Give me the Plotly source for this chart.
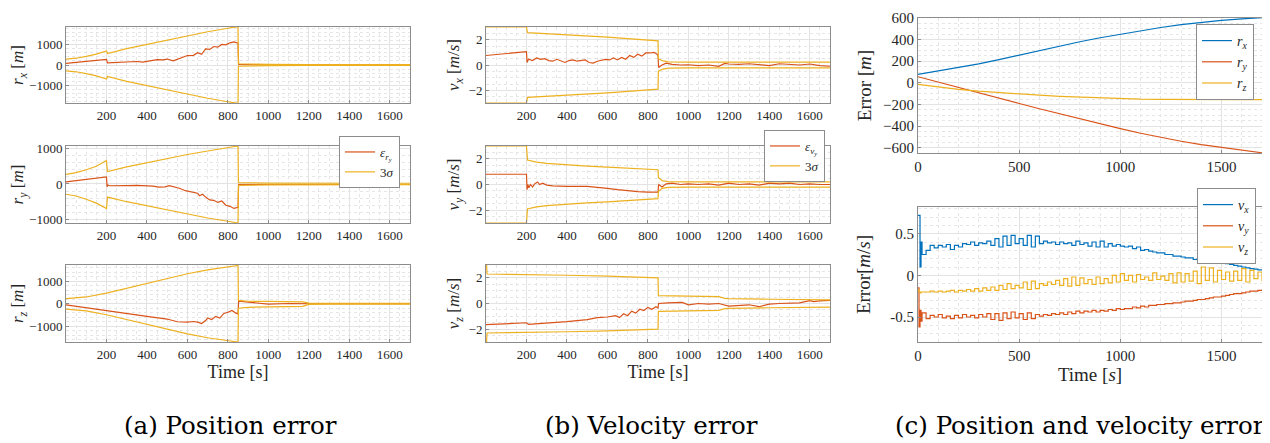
import plotly.graph_objects as go

# ---------------- DATA ----------------
# (a) position error panels
A1_SIG_T = [0, 50, 100, 150, 200, 205, 300, 400, 500, 600, 700, 800, 850, 852, 900, 1000, 1200, 1700]
A1_SIG_UP = [290, 330, 420, 530, 680, 560, 800, 1010, 1230, 1440, 1620, 1790, 1870, 60, 40, 30, 25, 20]
A1_SIG_LO = [-290, -330, -420, -530, -680, -560, -800, -1010, -1230, -1440, -1620, -1790, -1870, -60, -40, -30, -25, -20]
A1_ERR_T = [0, 200, 205, 250, 300, 350, 380, 420, 450, 480, 500, 530, 560, 600, 630, 650, 670, 690, 710, 730, 750, 770, 790, 810, 830, 850, 853, 900, 1000, 1200, 1700]
A1_ERR = [80, 270, 100, 130, 150, 170, 140, 220, 260, 250, 290, 200, 310, 460, 470, 600, 520, 780, 760, 900, 870, 1000, 980, 1080, 1120, 1060, 30, 20, 0, 0, 0]

A2_SIG_T = [0, 50, 100, 150, 200, 205, 300, 400, 500, 600, 700, 800, 850, 852, 900, 1000, 1700]
A2_SIG_UP = [270, 320, 400, 500, 660, 350, 480, 600, 720, 830, 930, 1020, 1070, 40, 30, 25, 20]
A2_SIG_LO = [-290, -340, -430, -540, -690, -370, -500, -620, -740, -860, -960, -1050, -1100, -40, -30, -25, -20]
A2_ERR_T = [0, 200, 203, 207, 215, 250, 300, 350, 400, 430, 460, 490, 510, 530, 560, 590, 620, 650, 660, 675, 690, 710, 730, 750, 770, 790, 810, 830, 850, 853, 900, 1700]
A2_ERR = [60, 200, -80, -30, -50, -40, -45, -40, -50, -60, -90, -80, -50, -70, -120, -190, -220, -260, -330, -290, -370, -450, -460, -520, -480, -600, -630, -690, -660, -20, -15, -15]

A3_SIG_T = [0, 100, 200, 300, 400, 500, 600, 700, 800, 850, 852, 900, 1000, 1100, 1170, 1200, 1300, 1700]
A3_SIG_UP = [230, 300, 470, 680, 900, 1120, 1330, 1500, 1640, 1700, 150, 110, 100, 90, 80, 30, 20, 20]
A3_SIG_LO = [-240, -320, -490, -700, -920, -1130, -1340, -1510, -1650, -1700, -200, -160, -140, -130, -120, -30, -20, -20]
A3_ERR_T = [0, 100, 200, 300, 400, 500, 550, 600, 630, 650, 670, 690, 700, 720, 740, 760, 780, 800, 820, 840, 850, 853, 880, 920, 960, 1000, 1100, 1180, 1250, 1700]
A3_ERR = [-50, -180, -330, -450, -560, -680, -800, -820, -790, -820, -880, -750, -630, -700, -560, -640, -430, -380, -300, -420, -450, 110, 90, 40, 0, -20, 10, 20, 0, 0]

# (b) velocity error panels
B1_SIG_T = [0, 200, 205, 400, 600, 850, 852, 870, 900, 1000, 1700]
B1_SIG_UP = [3.0, 3.0, 2.55, 2.4, 2.2, 1.9, 0.5, 0.35, 0.25, 0.23, 0.22]
B1_SIG_LO = [-3.0, -3.0, -2.55, -2.4, -2.2, -1.9, -0.5, -0.35, -0.25, -0.23, -0.22]
B1_ERR_T = [0, 200, 203, 210, 230, 250, 270, 290, 310, 330, 350, 370, 390, 410, 430, 450, 470, 490, 510, 530,
            550, 570, 590, 610, 630, 650, 670, 690, 710, 730, 750, 770, 790, 810, 830, 845, 850, 853, 870, 890,
            920, 960, 1000, 1050, 1100, 1150, 1180, 1200, 1250, 1300, 1350, 1400, 1450, 1500, 1550, 1600, 1650, 1700]
B1_ERR = [0.75, 1.05, 0.2, 0.45, 0.35, 0.55, 0.45, 0.5, 0.35, 0.3, 0.45, 0.3, 0.2, 0.35, 0.4, 0.3, 0.35, 0.4, 0.2, 0.15,
          0.3, 0.35, 0.45, 0.4, 0.55, 0.4, 0.6, 0.45, 0.75, 0.6, 0.85, 0.7, 0.95, 0.95, 1.0, 0.85, 0.75, -0.2, 0.0, 0.15,
          0.05, 0.0, 0.02, -0.05, 0.0, -0.1, 0.12, 0.08, 0.05, 0.1, 0.05, -0.05, 0.1, 0.05, 0.0, 0.08, -0.05, -0.1]

B2_SIG_T = [0, 200, 205, 250, 300, 400, 500, 600, 700, 850, 852, 870, 900, 1000, 1700]
B2_SIG_UP = [3.0, 3.0, 1.9, 1.75, 1.65, 1.52, 1.43, 1.35, 1.27, 1.15, 0.55, 0.3, 0.22, 0.2, 0.2]
B2_SIG_LO = [-3.0, -3.0, -1.9, -1.75, -1.65, -1.52, -1.43, -1.35, -1.27, -1.1, -0.55, -0.3, -0.22, -0.2, -0.2]
B2_ERR_T = [0, 200, 203, 207, 212, 220, 230, 240, 255, 265, 280, 300, 330, 400, 500, 550, 600, 650, 700, 750, 800,
            850, 853, 870, 890, 920, 960, 1000, 1050, 1100, 1150, 1200, 1250, 1300, 1350, 1400, 1450, 1500, 1550,
            1600, 1650, 1700]
B2_ERR = [0.8, 0.8, -0.4, 0.0, -0.25, 0.0, -0.2, 0.05, 0.2, 0.0, 0.1, -0.05, -0.1, -0.15, -0.15, -0.2, -0.3, -0.4,
          -0.5, -0.55, -0.6, -0.6, 0.0, -0.2, 0.05, 0.1, 0.0, 0.05, 0.0, 0.05, -0.05, 0.1, 0.0, 0.05, -0.05, 0.1,
          0.05, 0.1, 0.0, 0.05, 0.0, 0.0]

B3_SIG_T = [0, 3, 5, 200, 400, 600, 850, 852, 1000, 1150, 1180, 1200, 1400, 1700]
B3_SIG_UP = [3.0, 3.0, 2.3, 2.27, 2.2, 2.13, 2.0, 0.62, 0.58, 0.53, 0.4, 0.38, 0.33, 0.28]
B3_SIG_LO = [-3.0, -3.0, -2.3, -2.27, -2.2, -2.13, -2.0, -0.62, -0.58, -0.53, -0.4, -0.38, -0.33, -0.28]
B3_ERR_T = [0, 200, 210, 300, 400, 500, 550, 600, 640, 660, 680, 700, 720, 740, 760, 780, 800, 820, 840, 850,
            853, 900, 940, 970, 1000, 1050, 1100, 1150, 1200, 1250, 1300, 1350, 1400, 1450, 1500, 1550, 1600,
            1620, 1650, 1700]
B3_ERR = [-1.65, -1.5, -1.62, -1.55, -1.42, -1.25, -1.1, -1.05, -0.95, -1.1, -0.8, -0.95, -0.6, -0.75, -0.45,
          -0.55, -0.3, -0.45, -0.25, -0.35, 0.0, 0.05, 0.05, 0.08, -0.1, 0.0, -0.05, 0.0, -0.2, -0.15, -0.1,
          -0.25, -0.05, 0.0, 0.0, 0.05, 0.22, 0.15, 0.2, 0.25]

# (c) position and velocity error
C1_T = [0, 100, 200, 300, 400, 500, 600, 700, 800, 900, 1000, 1100, 1200, 1300, 1400, 1500, 1600, 1700]
C1_RX = [78, 110, 140, 175, 215, 257, 298, 340, 380, 417, 450, 482, 512, 538, 560, 578, 592, 603]
C1_RY = [56, 5, -45, -95, -143, -192, -240, -287, -333, -380, -425, -467, -505, -541, -572, -598, -622, -648]
C1_RZ = [-15, -40, -60, -78, -92, -105, -115, -125, -133, -140, -148, -152, -154, -156, -157, -157, -156, -156]

C2_T = [0, 5, 10, 15, 20] + list(range(40, 1701, 20))
C2_VX = [0.72, 0.72, 0.10, 0.40, 0.25,
         0.30, 0.36, 0.33, 0.36, 0.34, 0.37, 0.31, 0.36, 0.34, 0.38, 0.37, 0.40, 0.36, 0.39, 0.38, 0.41,
         0.36, 0.44, 0.34, 0.47, 0.36, 0.48, 0.38, 0.44, 0.36, 0.48, 0.34, 0.47, 0.38, 0.41, 0.39, 0.40,
         0.37, 0.40, 0.38, 0.39, 0.36, 0.41, 0.37, 0.39, 0.35, 0.40, 0.34, 0.41, 0.34, 0.38, 0.35, 0.37,
         0.35, 0.34, 0.35, 0.32, 0.34, 0.30, 0.31, 0.29, 0.28, 0.27, 0.27, 0.25, 0.25, 0.23, 0.23, 0.22,
         0.21, 0.21, 0.19, 0.20, 0.18, 0.19, 0.17, 0.16, 0.155, 0.145, 0.14, 0.13, 0.12, 0.11, 0.10, 0.09,
         0.08, 0.075, 0.065, 0.06]
C2_VY = [-0.15, -0.62, -0.42, -0.55, -0.45,
         -0.52, -0.48, -0.50, -0.47, -0.51, -0.49, -0.52, -0.48, -0.51, -0.47, -0.50, -0.48, -0.51, -0.47,
         -0.50, -0.46, -0.53, -0.46, -0.54, -0.45, -0.52, -0.44, -0.51, -0.46, -0.53, -0.45, -0.52, -0.47,
         -0.49, -0.47, -0.48, -0.46, -0.47, -0.45, -0.47, -0.44, -0.46, -0.43, -0.45, -0.43, -0.44, -0.42,
         -0.44, -0.42, -0.43, -0.41, -0.42, -0.40, -0.41, -0.40, -0.40, -0.38, -0.39, -0.37, -0.38, -0.36,
         -0.36, -0.35, -0.35, -0.34, -0.34, -0.33, -0.33, -0.32, -0.31, -0.31, -0.30, -0.29, -0.29, -0.28,
         -0.27, -0.26, -0.26, -0.25, -0.24, -0.23, -0.22, -0.22, -0.21, -0.20, -0.19, -0.19, -0.18, -0.17]
C2_VZ = [-0.17, -0.20, -0.21, -0.20, -0.20,
         -0.20, -0.19, -0.20, -0.19, -0.20, -0.19, -0.18, -0.20, -0.18, -0.19, -0.17, -0.19, -0.16, -0.19,
         -0.15, -0.18, -0.14, -0.18, -0.12, -0.17, -0.10, -0.16, -0.12, -0.15, -0.08, -0.17, -0.07, -0.16,
         -0.10, -0.12, -0.08, -0.11, -0.06, -0.12, -0.04, -0.13, -0.02, -0.12, -0.03, -0.10, -0.05, -0.11,
         -0.02, -0.10, -0.04, -0.09, 0.00, -0.08, 0.02, -0.06, 0.00, -0.08, 0.01, -0.05, -0.02, -0.06,
         0.03, -0.05, -0.01, -0.06, 0.02, -0.09, 0.03, -0.08, 0.02, -0.07, 0.05, -0.10, 0.10, -0.06, 0.09,
         -0.08, 0.06, -0.05, 0.04, -0.07, 0.05, -0.06, 0.08, -0.08, 0.06, -0.04, 0.04, -0.07]

LEFT_XTICKS = [200, 400, 600, 800, 1000, 1200, 1400, 1600]
RIGHT_XTICKS = [0, 500, 1000, 1500]

# ---------------- STYLE ----------------
RED = "#D95319"
YEL = "#EDB120"
BLU = "#0072BD"
FONT = "Liberation Serif"
CAPFONT = "DejaVu Serif"
TXT = "#262626"
OFF = 8                     # page body margin of the html page
W, H = 1270 - OFF, 443 - OFF


def xdom(x0, x1):
    return [(x0 - OFF) / W, (x1 - OFF) / W]


def ydom(y0, y1):
    return [1 - (y1 - OFF) / H, 1 - (y0 - OFF) / H]


fig = go.Figure()


def add(x, y, color, axis_idx, name=None, legend=None, shape="linear", show=False):
    sfx = "" if axis_idx == 1 else str(axis_idx)
    fig.add_trace(go.Scatter(
        x=x, y=y, mode="lines", line=dict(color=color, width=1.2, shape=shape),
        xaxis="x" + sfx, yaxis="y" + sfx, name=name, showlegend=show,
        legend=legend, hoverinfo="skip"))


# panel a
add(A1_ERR_T, A1_ERR, RED, 1)
add(A1_SIG_T, A1_SIG_UP, YEL, 1)
add(A1_SIG_T, A1_SIG_LO, YEL, 1)
add(A2_ERR_T, A2_ERR, RED, 2, name="<i>ε</i><sub><i>r<sub>y</sub></i></sub>", legend="legend", show=True)
add(A2_SIG_T, A2_SIG_UP, YEL, 2, name="3<i>σ</i>", legend="legend", show=True)
add(A2_SIG_T, A2_SIG_LO, YEL, 2)
add(A3_ERR_T, A3_ERR, RED, 3)
add(A3_SIG_T, A3_SIG_UP, YEL, 3)
add(A3_SIG_T, A3_SIG_LO, YEL, 3)
# panel b
add(B1_ERR_T, B1_ERR, RED, 4)
add(B1_SIG_T, B1_SIG_UP, YEL, 4)
add(B1_SIG_T, B1_SIG_LO, YEL, 4)
add(B2_ERR_T, B2_ERR, RED, 5, name="<i>ε</i><sub><i>v<sub>y</sub></i></sub>", legend="legend2", show=True)
add(B2_SIG_T, B2_SIG_UP, YEL, 5, name="3<i>σ</i>", legend="legend2", show=True)
add(B2_SIG_T, B2_SIG_LO, YEL, 5)
add(B3_ERR_T, B3_ERR, RED, 6)
add(B3_SIG_T, B3_SIG_UP, YEL, 6)
add(B3_SIG_T, B3_SIG_LO, YEL, 6)
# panel c
add(C1_T, C1_RX, BLU, 7, name="<i>r<sub>x</sub></i>", legend="legend3", show=True)
add(C1_T, C1_RY, RED, 7, name="<i>r<sub>y</sub></i>", legend="legend3", show=True)
add(C1_T, C1_RZ, YEL, 7, name="<i>r<sub>z</sub></i>", legend="legend3", show=True)
add(C2_T, C2_VX, BLU, 8, name="<i>v<sub>x</sub></i>", legend="legend4", shape="hv", show=True)
add(C2_T, C2_VY, RED, 8, name="<i>v<sub>y</sub></i>", legend="legend4", shape="hv", show=True)
add(C2_T, C2_VZ, YEL, 8, name="<i>v<sub>z</sub></i>", legend="legend4", shape="hv", show=True)


def axis(domain, rng, anchor, tickvals=None, minor=None, title=None, fs=13, tfs=17, standoff=None):
    d = dict(domain=domain, range=rng, anchor=anchor, showline=True, mirror=True, automargin=False,
             linecolor="#8c8c8c", linewidth=1, showgrid=True, gridcolor="#e3e3e3", gridwidth=1,
             zeroline=False, ticks="inside", ticklen=3, tickcolor="#8c8c8c",
             tickfont=dict(family=FONT, size=fs, color=TXT),
             minor=dict(dtick=minor, showgrid=True, gridcolor="#e6e6e6", griddash="dot", ticks=""),
             fixedrange=True)
    if tickvals is not None:
        d["tickmode"] = "array"
        d["tickvals"] = tickvals
    if title:
        d["title"] = dict(text=title, font=dict(family=FONT, size=tfs, color=TXT))
        if standoff is not None:
            d["title"]["standoff"] = standoff
    return d


XL = xdom(66, 410)
XM = xdom(486, 830)
XR = xdom(918, 1262)
R1 = ydom(27, 103)
R2 = ydom(146, 223)
R3 = ydom(265, 342)
RT = ydom(18, 153)
RB = ydom(207, 342)

lay = {}
# x axes
lay["xaxis"] = axis(XL, [0, 1700], "y", tickvals=LEFT_XTICKS, minor=50)
lay["xaxis2"] = axis(XL, [0, 1700], "y2", tickvals=LEFT_XTICKS, minor=50)
lay["xaxis3"] = axis(XL, [0, 1700], "y3", tickvals=LEFT_XTICKS, minor=50, title="Time [s]", tfs=18, standoff=2)
lay["xaxis4"] = axis(XM, [0, 1700], "y4", tickvals=LEFT_XTICKS, minor=50)
lay["xaxis5"] = axis(XM, [0, 1700], "y5", tickvals=LEFT_XTICKS, minor=50)
lay["xaxis6"] = axis(XM, [0, 1700], "y6", tickvals=LEFT_XTICKS, minor=50, title="Time [s]", tfs=18, standoff=2)
lay["xaxis7"] = axis(XR, [0, 1700], "y7", tickvals=RIGHT_XTICKS, minor=100, fs=15)
lay["xaxis8"] = axis(XR, [0, 1700], "y8", tickvals=RIGHT_XTICKS, minor=100, fs=15,
                     title="Time [<i>s</i>]", tfs=19, standoff=2)
# y axes
lay["yaxis"] = axis(R1, [-1850, 1850], "x", tickvals=[-1000, 0, 1000], minor=200,
                    title="<i>r<sub>x</sub></i> [<i>m</i>]", standoff=6)
lay["yaxis2"] = axis(R2, [-1100, 1070], "x2", tickvals=[-1000, 0, 1000], minor=200,
                     title="<i>r<sub>y</sub></i> [<i>m</i>]", standoff=6)
lay["yaxis3"] = axis(R3, [-1700, 1720], "x3", tickvals=[-1000, 0, 1000], minor=200,
                     title="<i>r<sub>z</sub></i> [<i>m</i>]", standoff=6)
lay["yaxis4"] = axis(R1, [-3, 3], "x4", tickvals=[-2, 0, 2], minor=0.5,
                     title="<i>v<sub>x</sub></i> [<i>m</i>/<i>s</i>]", standoff=4)
lay["yaxis5"] = axis(R2, [-3, 3], "x5", tickvals=[-2, 0, 2], minor=0.5,
                     title="<i>v<sub>y</sub></i> [<i>m</i>/<i>s</i>]", standoff=4)
lay["yaxis6"] = axis(R3, [-3, 3], "x6", tickvals=[-2, 0, 2], minor=0.5,
                     title="<i>v<sub>z</sub></i> [<i>m</i>/<i>s</i>]", standoff=4)
lay["yaxis7"] = axis(RT, [-650, 600], "x7", tickvals=[-600, -400, -200, 0, 200, 400, 600], minor=50,
                     fs=15, title="Error [<i>m</i>]", tfs=19, standoff=6)
lay["yaxis8"] = axis(RB, [-0.8, 0.82], "x8", tickvals=[-0.5, 0, 0.5], minor=0.1,
                     fs=15, title="Error[<i>m</i>/<i>s</i>]", tfs=19, standoff=14)
lay["yaxis8"]["ticktext"] = ["-0.5", "0", "0.5"]


def leg(xr, yt, fs=13):
    return dict(x=(xr - OFF) / W, y=1 - (yt - OFF) / H, xanchor="right", yanchor="top", bgcolor="white",
                bordercolor="#8c8c8c", borderwidth=1, font=dict(family=FONT, size=fs, color=TXT),
                tracegroupgap=0, itemwidth=30)


lay["legend"] = leg(400, 136)
lay["legend2"] = leg(825, 130)
lay["legend3"] = leg(1254, 24, fs=14)
lay["legend4"] = leg(1256, 188, fs=14)

captions = [("(a) Position error", 122), ("(b) Velocity error", 543), ("(c) Position and velocity error", 893)]
ann = []
for txt, xl in captions:
    ann.append(dict(text=txt, x=(xl - OFF) / W, y=1 - (425 - OFF) / H, xref="paper", yref="paper",
                    xanchor="left", yanchor="middle", showarrow=False,
                    font=dict(family=CAPFONT, size=24.5, color="#000000")))

fig.update_layout(**lay)
fig.update_layout(width=W, height=H, margin=dict(l=0, r=0, t=0, b=0, pad=0), paper_bgcolor="white",
                  plot_bgcolor="white", annotations=ann, showlegend=True)
fig.write_html("out.html")
